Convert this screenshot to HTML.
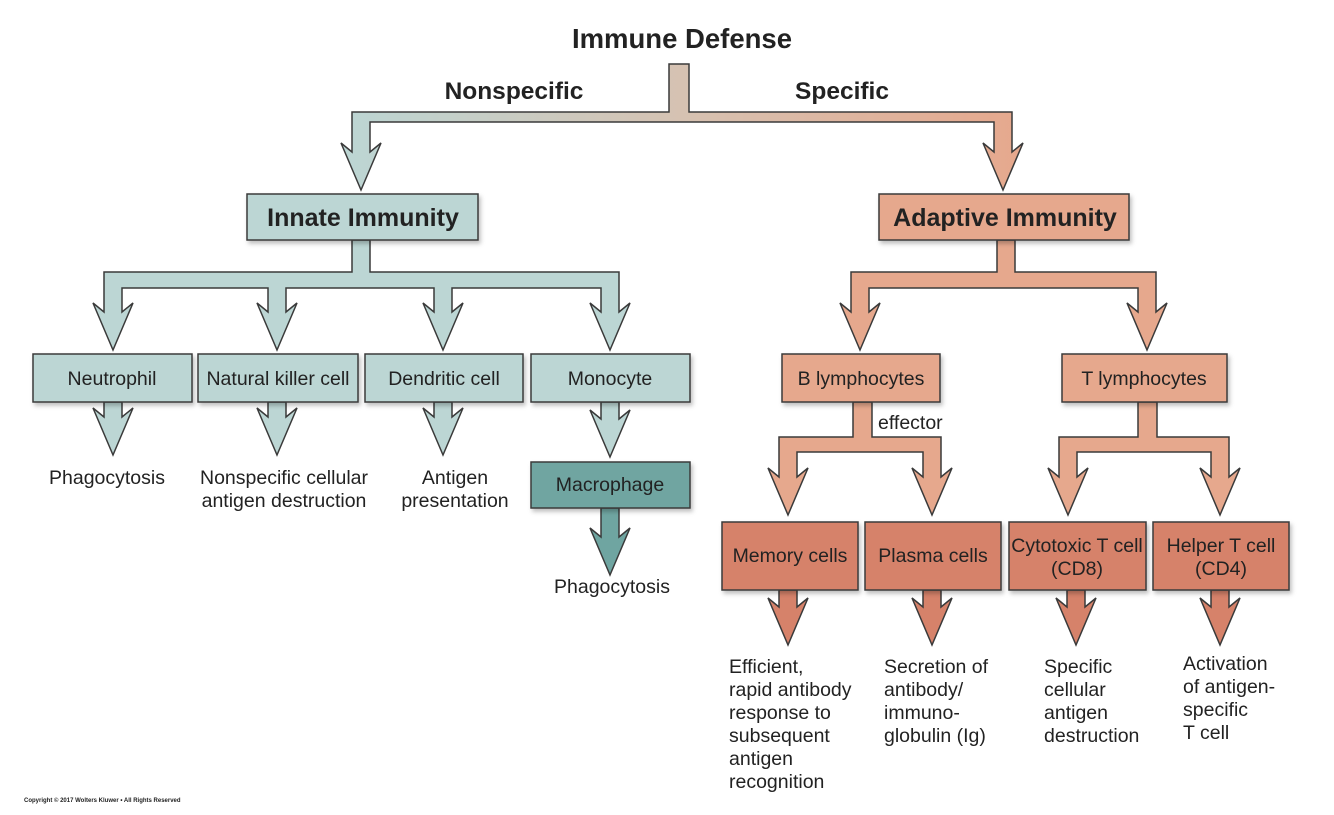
<!DOCTYPE html>
<html><head><meta charset="utf-8"><style>
html,body{margin:0;padding:0;background:#fff;}
svg{display:block;font-family:"Liberation Sans",sans-serif;}
</style></head><body>
<svg width="1334" height="815" viewBox="0 0 1334 815" xmlns="http://www.w3.org/2000/svg">
<defs>
<linearGradient id="g" x1="341" y1="0" x2="1023" y2="0" gradientUnits="userSpaceOnUse">
<stop offset="0" stop-color="#bcd6d4"/><stop offset="0.5" stop-color="#d6c2b2"/><stop offset="1" stop-color="#e6a88d"/>
</linearGradient>
<filter id="s" x="-10%" y="-10%" width="130%" height="140%"><feDropShadow dx="2" dy="3" stdDeviation="2" flood-color="#000" flood-opacity="0.25"/></filter>
</defs>
<g stroke="#3a3a3a" stroke-width="1.5" stroke-linejoin="miter">
<polygon fill="url(#g)" points="669,64 689,64 689,112 1012,112 1012,152 1023,143 1003,190 983,143 994,152 994,122 370,122 370,152 381,143 361,190 341,143 352,152 352,112 669,112"/>
<polygon fill="#bcd6d4" points="352,240 352,272 104,272 104,312 93,303 113,350 133,303 122,312 122,288 268,288 268,312 257,303 277,350 297,303 286,312 286,288 434,288 434,312 423,303 443,350 463,303 452,312 452,288 601,288 601,312 590,303 610,350 630,303 619,312 619,272 370,272 370,240"/>
<polygon fill="#e6a88d" points="997,240 997,272 851,272 851,312 840,303 860,350 880,303 869,312 869,288 1138,288 1138,312 1127,303 1147,350 1167,303 1156,312 1156,272 1015,272 1015,240"/>
<polygon fill="#e6a88d" points="853,402 853,437 779,437 779,477 768,468 788,515 808,468 797,477 797,452 923,452 923,477 912,468 932,515 952,468 941,477 941,437 872,437 872,402"/>
<polygon fill="#e6a88d" points="1138,402 1138,437 1059,437 1059,477 1048,468 1068,515 1088,468 1077,477 1077,452 1211,452 1211,477 1200,468 1220,515 1240,468 1229,477 1229,437 1157,437 1157,402"/>
<polygon fill="#bcd6d4" points="104,402 104,417 93,408 113,455 133,408 122,417 122,402"/>
<polygon fill="#bcd6d4" points="268,402 268,417 257,408 277,455 297,408 286,417 286,402"/>
<polygon fill="#bcd6d4" points="434,402 434,417 423,408 443,455 463,408 452,417 452,402"/>
<polygon fill="#bcd6d4" points="601,402 601,419 590,410 610,457 630,410 619,419 619,402"/>
<polygon fill="#6fa5a1" points="601,508 601,537 590,528 610,575 630,528 619,537 619,508"/>
<polygon fill="#d6826a" points="779,590 779,607 768,598 788,645 808,598 797,607 797,590"/>
<polygon fill="#d6826a" points="923,590 923,607 912,598 932,645 952,598 941,607 941,590"/>
<polygon fill="#d6826a" points="1067,590 1067,607 1056,598 1076,645 1096,598 1085,607 1085,590"/>
<polygon fill="#d6826a" points="1211,590 1211,607 1200,598 1220,645 1240,598 1229,607 1229,590"/>
<g filter="url(#s)">
<rect x="247" y="194" width="231" height="46" fill="#bcd6d4"/>
<rect x="879" y="194" width="250" height="46" fill="#e6a88d"/>
<rect x="33" y="354" width="159" height="48" fill="#bcd6d4"/>
<rect x="198" y="354" width="160" height="48" fill="#bcd6d4"/>
<rect x="365" y="354" width="158" height="48" fill="#bcd6d4"/>
<rect x="531" y="354" width="159" height="48" fill="#bcd6d4"/>
<rect x="531" y="462" width="159" height="46" fill="#6fa5a1"/>
<rect x="782" y="354" width="158" height="48" fill="#e6a88d"/>
<rect x="1062" y="354" width="165" height="48" fill="#e6a88d"/>
<rect x="722" y="522" width="136" height="68" fill="#d6826a"/>
<rect x="865" y="522" width="136" height="68" fill="#d6826a"/>
<rect x="1009" y="522" width="137" height="68" fill="#d6826a"/>
<rect x="1153" y="522" width="136" height="68" fill="#d6826a"/>
</g>
</g>
<g fill="#222" text-anchor="middle">
<text x="682" y="48" font-size="27.5" font-weight="bold">Immune Defense</text>
<text x="514" y="99" font-size="24.5" font-weight="bold">Nonspecific</text>
<text x="842" y="99" font-size="24.5" font-weight="bold">Specific</text>
<text x="363" y="226" font-size="25" font-weight="bold">Innate Immunity</text>
<text x="1005" y="226" font-size="25" font-weight="bold">Adaptive Immunity</text>
<g font-size="19.5">
<text x="112" y="385">Neutrophil</text>
<text x="278" y="385">Natural killer cell</text>
<text x="444" y="385">Dendritic cell</text>
<text x="610" y="385">Monocyte</text>
<text x="610" y="491">Macrophage</text>
<text x="861" y="385">B lymphocytes</text>
<text x="1144" y="385">T lymphocytes</text>
<text x="790" y="562">Memory cells</text>
<text x="933" y="562">Plasma cells</text>
<text x="1077" y="552">Cytotoxic T cell</text>
<text x="1077" y="575">(CD8)</text>
<text x="1221" y="552">Helper T cell</text>
<text x="1221" y="575">(CD4)</text>
<text x="107" y="484">Phagocytosis</text>
<text x="284" y="484">Nonspecific cellular</text>
<text x="284" y="507">antigen destruction</text>
<text x="455" y="484">Antigen</text>
<text x="455" y="507">presentation</text>
<text x="612" y="593">Phagocytosis</text>
</g>
<g font-size="19.5" text-anchor="start">
<text x="878" y="429">effector</text>
<text x="729" y="673">Efficient,</text>
<text x="729" y="696">rapid antibody</text>
<text x="729" y="719">response to</text>
<text x="729" y="742">subsequent</text>
<text x="729" y="765">antigen</text>
<text x="729" y="788">recognition</text>
<text x="884" y="673">Secretion of</text>
<text x="884" y="696">antibody/</text>
<text x="884" y="719">immuno-</text>
<text x="884" y="742">globulin (Ig)</text>
<text x="1044" y="673">Specific</text>
<text x="1044" y="696">cellular</text>
<text x="1044" y="719">antigen</text>
<text x="1044" y="742">destruction</text>
<text x="1183" y="670">Activation</text>
<text x="1183" y="693">of antigen-</text>
<text x="1183" y="716">specific</text>
<text x="1183" y="739">T cell</text>
</g>
<text x="24" y="802" font-size="6" text-anchor="start" font-weight="bold">Copyright © 2017 Wolters Kluwer • All Rights Reserved</text>
</g>
</svg>
</body></html>
